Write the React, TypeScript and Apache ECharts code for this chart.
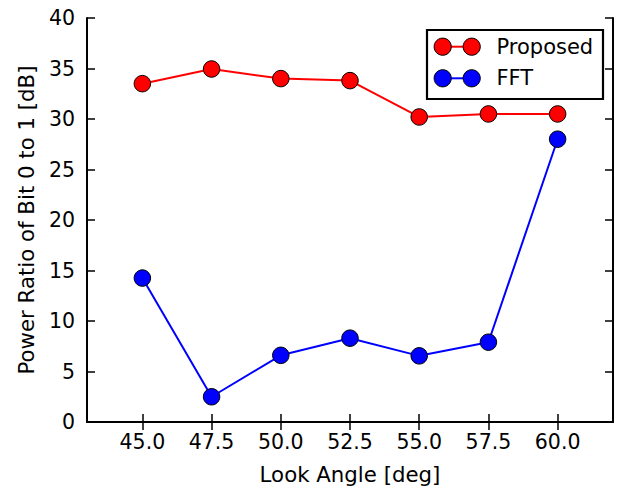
import React, { useEffect, useRef } from "react";
import * as echarts from "echarts";

const lookAngles = [45.0, 47.5, 50.0, 52.5, 55.0, 57.5, 60.0];
const proposed = [33.5, 34.95, 34.0, 33.8, 30.2, 30.5, 30.5];
const fft = [14.25, 2.5, 6.6, 8.3, 6.55, 7.9, 28.0];
const xTicks = [45.0, 47.5, 50.0, 52.5, 55.0, 57.5, 60.0];
const seriesNames = ["Proposed", "FFT"];
const seriesColors = ["#ff0000", "#0000ff"];

const FONT = "DejaVu Sans";
const FS = 20.5;
const NAME_FS = 21.3;
const LEGEND_FS = 21;

export default function App() {
  const ref = useRef<HTMLDivElement>(null);
  useEffect(() => {
    if (!ref.current) return;
    const chart = echarts.init(ref.current, null, { renderer: "svg" });
    const axisLine = { show: true, lineStyle: { color: "#000", width: 2 } };
    const tickInside = { show: true, inside: true, length: 8, lineStyle: { color: "#000", width: 1.5 } };
    const mk = (ys: number[], i: number) => ({
      name: seriesNames[i],
      type: "line",
      data: lookAngles.map((x, k) => [x, ys[k]]),
      symbol: "circle",
      symbolSize: 16.5,
      itemStyle: { color: seriesColors[i], borderColor: "#000", borderWidth: 1 },
      lineStyle: { color: seriesColors[i], width: 2 },
      z: 2 + i,
    });
    const legendX = 427;
    const legendY = 30;
    const rows = [46.7, 78.3];
    const legendGraphics: any[] = [
      {
        type: "rect",
        shape: { x: legendX, y: legendY, width: 176, height: 69 },
        style: { fill: "#fff", stroke: "#000", lineWidth: 2.2 },
        z: 10,
      },
    ];
    seriesNames.forEach((n, i) => {
      const y = rows[i];
      legendGraphics.push({
        type: "line",
        shape: { x1: 442.7, y1: y, x2: 471.7, y2: y },
        style: { stroke: seriesColors[i], lineWidth: 2 },
        z: 11,
      });
      [442.7, 471.7].forEach((cx) =>
        legendGraphics.push({
          type: "circle",
          shape: { cx, cy: y, r: 8.6 },
          style: { fill: seriesColors[i], stroke: "#000", lineWidth: 1 },
          z: 12,
        })
      );
      legendGraphics.push({
        type: "text",
        x: 496.5,
        y,
        style: { text: n, font: `${LEGEND_FS}px "${FONT}"`, fill: "#000", verticalAlign: "middle", textAlign: "left" },
        z: 12,
      });
    });
    chart.setOption({
      animation: false,
      backgroundColor: "#fff",
      textStyle: { fontFamily: FONT },
      grid: { left: 87, right: 9, top: 18, bottom: 68, containLabel: false },
      xAxis: [
        {
          type: "value",
          min: 43,
          max: 62,
          position: "bottom",
          name: "Look Angle [deg]",
          nameLocation: "middle",
          nameGap: 42,
          nameTextStyle: { fontSize: NAME_FS, color: "#000", fontFamily: FONT },
          axisLine,
          axisTick: { ...tickInside, customValues: xTicks },
          axisLabel: {
            customValues: xTicks,
            formatter: (v: number) => v.toFixed(1),
            fontSize: FS,
            color: "#000",
            fontFamily: FONT,
            margin: 9,
          },
          splitLine: { show: false },
        },
        {
          type: "value",
          min: 43,
          max: 62,
          position: "top",
          axisLine,
          axisTick: { ...tickInside, customValues: xTicks },
          axisLabel: { show: false },
          splitLine: { show: false },
        },
      ],
      yAxis: [
        {
          type: "value",
          min: 0,
          max: 40,
          interval: 5,
          position: "left",
          name: "Power Ratio of Bit 0 to 1 [dB]",
          nameLocation: "middle",
          nameGap: 50,
          nameTextStyle: { fontSize: NAME_FS, color: "#000", fontFamily: FONT },
          axisLine,
          axisTick: tickInside,
          axisLabel: { fontSize: FS, color: "#000", fontFamily: FONT, margin: 12 },
          splitLine: { show: false },
        },
        {
          type: "value",
          min: 0,
          max: 40,
          interval: 5,
          position: "right",
          axisLine,
          axisTick: tickInside,
          axisLabel: { show: false },
          splitLine: { show: false },
        },
      ],
      series: [mk(proposed, 0), mk(fft, 1)],
      graphic: legendGraphics,
    });
    return () => chart.dispose();
  }, []);
  return <div ref={ref} style={{ width: 622, height: 490, position: "absolute", left: 0, top: 0 }} />;
}
